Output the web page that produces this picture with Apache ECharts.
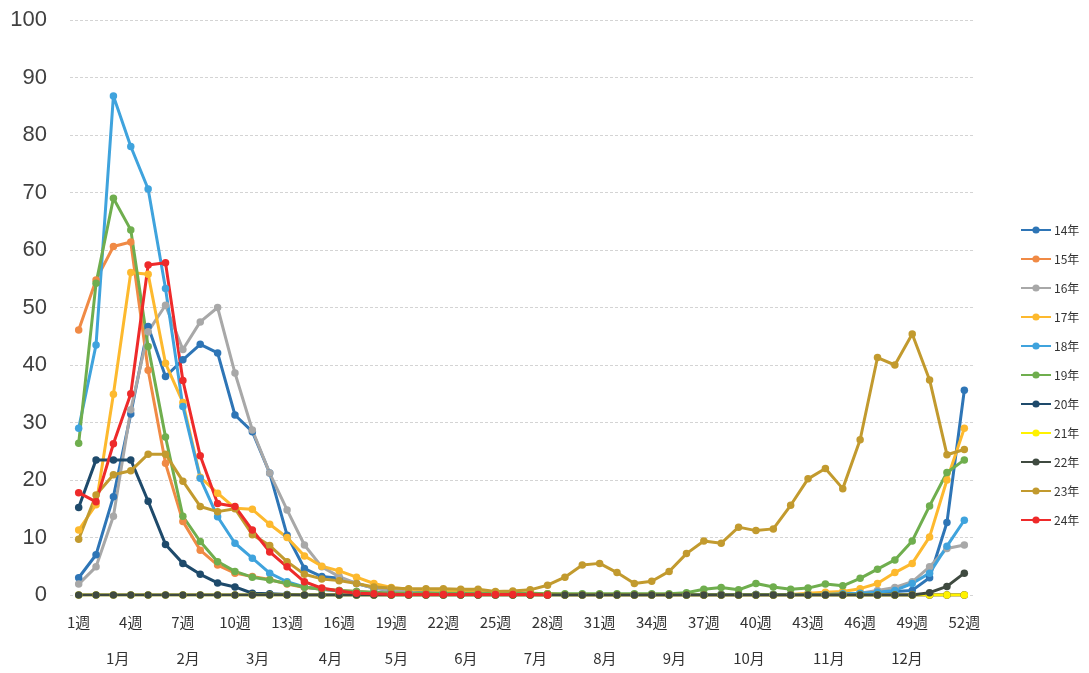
<!DOCTYPE html>
<html>
<head>
<meta charset="utf-8">
<script src="https://cdn.jsdelivr.net/npm/echarts@6/dist/echarts.min.js"></script>
<style>
  html, body { margin: 0; padding: 0; background: #ffffff; }
  #chart { width: 1089px; height: 673px; }
</style>
</head>
<body>
<div id="chart"></div>
<script>
// Weekly values, week 1 .. week 52
const weeks = Array.from({ length: 52 }, (_, i) => (i + 1) + '週');

const y14 = [3.0, 7.0, 17.1, 31.5, 46.7, 38.0, 40.9, 43.6, 42.1, 31.3, 28.4, 21.2, 10.4, 4.6, 3.2, 2.9,
  2.0, 1.2, 0.8, 0.5, 0.4, 0.3, 0.3, 0.2, 0.2, 0.2, 0.1, 0.1, 0.1, 0.1, 0.1, 0.1, 0.1, 0.1, 0.1, 0.1,
  0.1, 0.1, 0.1, 0.1, 0.1, 0.1, 0.1, 0.1, 0.2, 0.3, 0.5, 0.6, 0.8, 3.0, 12.6, 35.6];
const y15 = [46.1, 54.8, 60.6, 61.4, 39.1, 22.9, 12.8, 7.8, 5.2, 3.8, 3.2, 2.7, 1.9, 1.3, 1.0, 0.8,
  0.6, 0.4, 0.3, 0.2, 0.2, 0.2, 0.2, 0.2, 0.2, 0.2, 0.2, 0.2, 0, 0, 0, 0, 0, 0, 0, 0,
  0, 0, 0, 0, 0, 0, 0, 0, 0, 0, 0, 0, 0, 0, 0, 0];
const y16 = [1.9, 4.9, 13.7, 32.2, 45.8, 50.4, 42.7, 47.5, 50.0, 38.6, 28.7, 21.2, 14.8, 8.7, 4.9, 3.2,
  2.0, 1.2, 0.8, 0.5, 0.3, 0.3, 0.2, 0.2, 0.2, 0.1, 0.1, 0.1, 0.1, 0.1, 0.1, 0.1, 0.1, 0.1, 0.1, 0.1,
  0.1, 0.1, 0.1, 0.1, 0.1, 0.1, 0.1, 0.2, 0.2, 0.3, 0.8, 1.3, 2.3, 4.9, 8.1, 8.7];
const y17 = [11.3, 15.7, 34.9, 56.1, 55.8, 40.3, 33.5, 20.5, 17.7, 15.1, 14.9, 12.3, 10.0, 6.8, 5.0, 4.2,
  3.1, 2.0, 1.3, 1.0, 0.9, 0.8, 0.7, 0.6, 0.5, 0.4, 0.3, 0.2, 0.1, 0.1, 0.1, 0.1, 0.1, 0.1, 0.1, 0.1,
  0.1, 0.1, 0.1, 0.1, 0.1, 0.1, 0.3, 0.5, 0.6, 1.1, 2.0, 3.9, 5.5, 10.1, 20.0, 29.0];
const y18 = [29.0, 43.5, 86.8, 78.0, 70.6, 53.3, 32.8, 20.3, 13.6, 9.0, 6.4, 3.8, 2.3, 1.4, 1.0, 0.7,
  0.5, 0.4, 0.3, 0.2, 0.2, 0.2, 0.2, 0.1, 0.1, 0.1, 0.1, 0.1, 0.1, 0.1, 0.1, 0.1, 0.1, 0.1, 0.1, 0.1,
  0.1, 0.1, 0.1, 0.1, 0.1, 0.1, 0.1, 0.1, 0.2, 0.3, 0.5, 0.8, 2.0, 3.8, 8.5, 13.0];
const y19 = [26.4, 54.2, 69.0, 63.5, 43.2, 27.5, 13.7, 9.3, 5.8, 4.1, 3.1, 2.6, 2.0, 1.4, 1.0, 0.8,
  0.6, 0.5, 0.3, 0.3, 0.3, 0.3, 0.3, 0.3, 0.3, 0.3, 0.3, 0.2, 0.2, 0.2, 0.2, 0.2, 0.2, 0.2, 0.2, 0.4,
  1.0, 1.3, 0.9, 2.0, 1.4, 1.0, 1.2, 1.9, 1.6, 2.9, 4.5, 6.1, 9.4, 15.5, 21.3, 23.5];
const y20 = [15.2, 23.5, 23.5, 23.5, 16.3, 8.8, 5.5, 3.6, 2.1, 1.4, 0.3, 0.2, 0.1, 0, 0, 0,
  0, 0, 0, 0, 0, 0, 0, 0, 0, 0, 0, 0, 0, 0, 0, 0, 0, 0, 0, 0,
  0, 0, 0, 0, 0, 0, 0, 0, 0, 0, 0, 0, 0, 0, 0, 0];
const y21 = [0, 0, 0, 0, 0, 0, 0, 0, 0, 0, 0, 0, 0, 0, 0, 0,
  0, 0, 0, 0, 0, 0, 0, 0, 0, 0, 0, 0, 0, 0, 0, 0, 0, 0, 0, 0,
  0, 0, 0, 0, 0, 0, 0, 0, 0, 0, 0, 0, 0, 0, 0, 0];
const y22 = [0, 0, 0, 0, 0, 0, 0, 0, 0, 0, 0, 0, 0, 0, 0, 0,
  0, 0, 0, 0, 0, 0, 0, 0, 0, 0, 0, 0, 0, 0, 0, 0, 0, 0, 0, 0,
  0, 0, 0, 0, 0, 0, 0, 0, 0, 0, 0, 0, 0, 0.4, 1.5, 3.8];
const y23 = [9.7, 17.4, 20.9, 21.6, 24.5, 24.5, 19.8, 15.4, 14.5, 15.0, 10.5, 8.6, 5.8, 3.6, 2.8, 2.5,
  2.0, 1.4, 1.2, 1.1, 1.1, 1.1, 1.0, 1.0, 0.6, 0.7, 0.9, 1.7, 3.1, 5.2, 5.5, 3.9, 2.0, 2.4, 4.1, 7.2,
  9.4, 9.0, 11.8, 11.2, 11.5, 15.6, 20.2, 22.0, 18.5, 27.0, 41.3, 40.0, 45.4, 37.4, 24.4, 25.3];
const y24 = [17.8, 16.2, 26.3, 35.0, 57.4, 57.8, 37.3, 24.2, 15.9, 15.4, 11.3, 7.5, 4.9, 2.3, 1.2, 0.7,
  0.3, 0.2, 0.1, 0.1, 0.1, 0.1, 0.1, 0.1, 0.1, 0.1, 0.1, 0];

// Month captions and the week (centre of category) each sits under
const months = ['1月', '2月', '3月', '4月', '5月', '6月', '7月', '8月', '9月', '10月', '11月', '12月'];
const monthWeeks = [3.25, 7.3, 11.3, 15.5, 19.3, 23.3, 27.3, 31.3, 35.3, 39.6, 44.2, 48.7];

const seriesNames = ['14年', '15年', '16年', '17年', '18年', '19年', '20年', '21年', '22年', '23年', '24年'];
const seriesData = [y14, y15, y16, y17, y18, y19, y20, y21, y22, y23, y24];
const colors = ['#2E75B6', '#F08A45', '#A8A8A8', '#FDB92E', '#3FA3DD', '#6FAE4E',
  '#1E4A6B', '#FFF200', '#3F4A40', '#C29A2E', '#EE2A2A'];

const cjk = '"Noto Sans CJK JP", "Noto Sans", sans-serif';

const chart = echarts.init(document.getElementById('chart'), null, { renderer: 'canvas' });
chart.setOption({
  animation: false,
  backgroundColor: '#ffffff',
  color: colors,
  grid: { left: 70, right: 116, top: 20, bottom: 78, containLabel: false },
  legend: {
    orient: 'vertical',
    left: 1015,
    top: 218,
    itemWidth: 30,
    itemHeight: 9,
    itemGap: 15,
    textStyle: { fontFamily: cjk, fontSize: 12, color: '#333', lineHeight: 14, padding: [0, 0, 0, -2] },
    data: seriesNames
  },
  xAxis: [
    {
      type: 'category',
      data: weeks,
      boundaryGap: true,
      axisLine: { show: false },
      axisTick: { show: false },
      splitLine: { show: false },
      axisLabel: {
        interval: 2,
        margin: 20,
        fontFamily: cjk,
        fontSize: 15,
        color: '#333'
      }
    },
    {
      type: 'value',
      position: 'bottom',
      min: 0.5,
      max: 52.5,
      axisLine: { show: false },
      axisTick: { show: false },
      splitLine: { show: false },
      axisLabel: {
        customValues: monthWeeks,
        margin: 56,
        fontFamily: cjk,
        fontSize: 15,
        color: '#333',
        formatter: function (v) {
          const i = monthWeeks.findIndex(m => Math.abs(m - v) < 1e-6);
          return i >= 0 ? months[i] : '';
        }
      }
    }
  ],
  yAxis: {
    type: 'value',
    min: 0,
    max: 100,
    interval: 10,
    axisLine: { show: false },
    axisTick: { show: false },
    axisLabel: {
      margin: 23,
      fontFamily: '"Liberation Sans", Arial, sans-serif',
      fontSize: 22,
      color: '#404040'
    },
    splitLine: { lineStyle: { color: '#d4d4d4', type: [3, 2], width: 1 } }
  },
  series: seriesNames.map((name, i) => ({
    name: name,
    type: 'line',
    xAxisIndex: 0,
    data: seriesData[i],
    symbol: 'circle',
    symbolSize: 7.5,
    showSymbol: true,
    lineStyle: { width: 3 },
    itemStyle: { color: colors[i] },
    emphasis: { disabled: true }
  }))
});
</script>
</body>
</html>
